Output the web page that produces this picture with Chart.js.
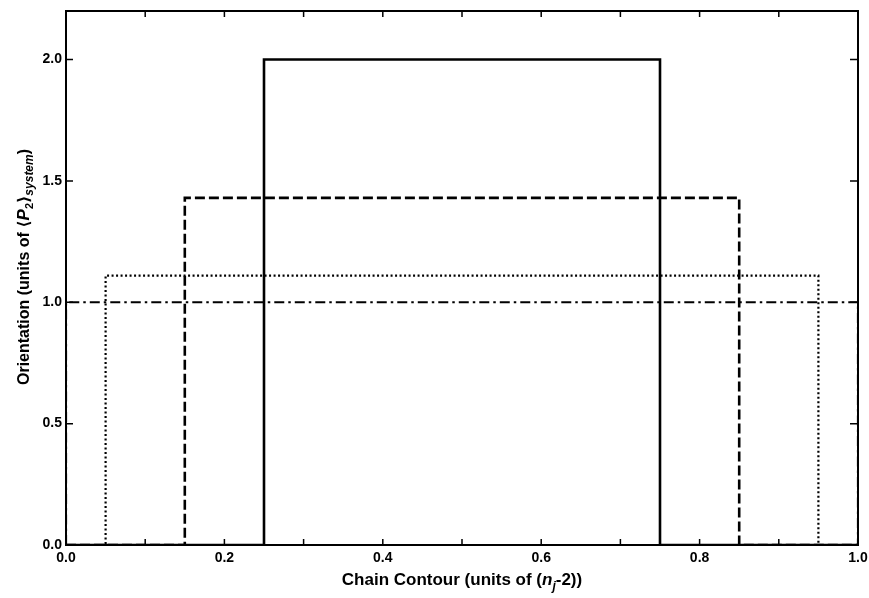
<!DOCTYPE html>
<html>
<head>
<meta charset="utf-8">
<script src="https://cdn.jsdelivr.net/npm/chart.js@4/dist/chart.umd.min.js"></script>
<style>
  html, body { margin: 0; padding: 0; background: #fff; }
  #wrap { width: 869px; height: 598px; position: relative; }
</style>
</head>
<body>
<div id="wrap"><canvas id="c" width="869" height="598"></canvas></div>
<script>
// ---- data ----
const seriesNames  = ["solid", "dashed", "dotted", "dashdot"];
const blockStarts  = [0.25, 0.15, 0.05, 0.00];
const blockEnds    = [0.75, 0.85, 0.95, 1.00];
const blockHeights = [2.00, 1.43, 1.11, 1.00];
const xTickLabels  = ["0.0", "0.2", "0.4", "0.6", "0.8", "1.0"];
const yTickLabels  = ["0.0", "0.5", "1.0", "1.5", "2.0"];
const xMin = 0, xMax = 1, yMin = 0, yMax = 2.2;

// ---- styles ----
const styles = [
  { borderWidth: 2.6, borderDash: [] },
  { borderWidth: 2.6, borderDash: [10, 4] },
  { borderWidth: 2.2, borderDash: [2, 2.5] },
  { borderWidth: 2.2, borderDash: [10, 4, 2.5, 4] }
];

function blockPoints(i) {
  const s = blockStarts[i], e = blockEnds[i], h = blockHeights[i];
  const pts = [];
  if (s > xMin) pts.push({ x: xMin, y: 0 });
  pts.push({ x: s, y: 0 }, { x: s, y: h }, { x: e, y: h }, { x: e, y: 0 });
  if (e < xMax) pts.push({ x: xMax, y: 0 });
  return pts;
}

const datasets = seriesNames.map((n, i) => ({
  label: n,
  data: blockPoints(i),
  borderColor: "#000",
  backgroundColor: "#000",
  borderWidth: styles[i].borderWidth,
  borderDash: styles[i].borderDash,
  pointRadius: 0,
  tension: 0,
  fill: false,
  borderCapStyle: "butt",
  borderJoinStyle: "miter"
}));

const tickFont = { family: "'Liberation Sans', Arial, sans-serif", size: 14, weight: "bold" };

function drawRich(ctx, segs, x, y, align) {
  let total = 0;
  segs.forEach(s => { ctx.font = s.font; s.w = ctx.measureText(s.t).width; total += s.w; });
  let cx = align === "center" ? x - total / 2 : x;
  segs.forEach(s => {
    ctx.font = s.font;
    ctx.fillText(s.t, cx, y + (s.dy || 0));
    cx += s.w;
  });
}

const framePlugin = {
  id: "frame",
  afterDraw(chart) {
    const ctx = chart.ctx;
    const a = chart.chartArea;
    const xs = chart.scales.x, ys = chart.scales.y;
    ctx.save();
    ctx.strokeStyle = "#000";
    ctx.fillStyle = "#000";
    ctx.lineWidth = 2;
    ctx.strokeRect(a.left, a.top, a.right - a.left, a.bottom - a.top);
    ctx.lineWidth = 1.5;
    for (let k = 1; k < 10; k++) {
      const px = xs.getPixelForValue(k / 10);
      ctx.beginPath();
      ctx.moveTo(px, a.bottom); ctx.lineTo(px, a.bottom - 6);
      ctx.moveTo(px, a.top); ctx.lineTo(px, a.top + 6);
      ctx.stroke();
    }
    for (let k = 1; k <= 4; k++) {
      const py = ys.getPixelForValue(k * 0.5);
      ctx.beginPath();
      ctx.moveTo(a.left, py); ctx.lineTo(a.left + 7, py);
      ctx.moveTo(a.right, py); ctx.lineTo(a.right - 8, py);
      ctx.stroke();
    }
    const B = "'Liberation Sans', Arial, 'DejaVu Sans', sans-serif";
    ctx.textBaseline = "alphabetic";
    ctx.textAlign = "left";
    drawRich(ctx, [
      { t: "Chain Contour (units of (", font: "bold 17px " + B },
      { t: "n", font: "italic bold 17px " + B },
      { t: "j", font: "italic bold 12px " + B, dy: 5 },
      { t: "-2))", font: "bold 17px " + B }
    ], (a.left + a.right) / 2, 585, "center");
    ctx.translate(29, 267);
    ctx.rotate(-Math.PI / 2);
    drawRich(ctx, [
      { t: "Orientation (units of ", font: "bold 16px " + B },
      { t: "\u27E8", font: "bold 16px 'DejaVu Sans', sans-serif" },
      { t: "P", font: "italic bold 17px " + B },
      { t: "2", font: "bold 11px " + B, dy: 4 },
      { t: "\u27E9", font: "bold 16px 'DejaVu Sans', sans-serif" },
      { t: "system", font: "italic bold 12px " + B, dy: 4 },
      { t: ")", font: "bold 16px " + B }
    ], 0, 0, "center");
    ctx.restore();
  }
};

new Chart(document.getElementById("c"), {
  type: "line",
  data: { datasets },
  options: {
    responsive: false,
    animation: false,
    layout: { padding: { top: 11, right: 11, left: 0, bottom: 0 } },
    plugins: { legend: { display: false }, tooltip: { enabled: false }, title: { display: false } },
    scales: {
      x: {
        type: "linear", min: xMin, max: xMax,
        grid: { display: false, drawTicks: false }, border: { display: false },
        ticks: {
          stepSize: 0.2, padding: 5, color: "#000", font: tickFont, maxRotation: 0,
          callback: (v, i) => xTickLabels[i]
        },
        afterFit: s => { s.height = 53; s.paddingLeft = 0; s.paddingRight = 0; }
      },
      y: {
        type: "linear", min: yMin, max: yMax,
        grid: { display: false, drawTicks: false }, border: { display: false },
        ticks: {
          stepSize: 0.5, includeBounds: false, padding: 4, color: "#000", font: tickFont,
          callback: (v, i) => yTickLabels[i]
        },
        afterFit: s => { s.width = 66; s.paddingTop = 0; s.paddingBottom = 0; }
      }
    }
  },
  plugins: [framePlugin]
});
</script>
</body>
</html>
